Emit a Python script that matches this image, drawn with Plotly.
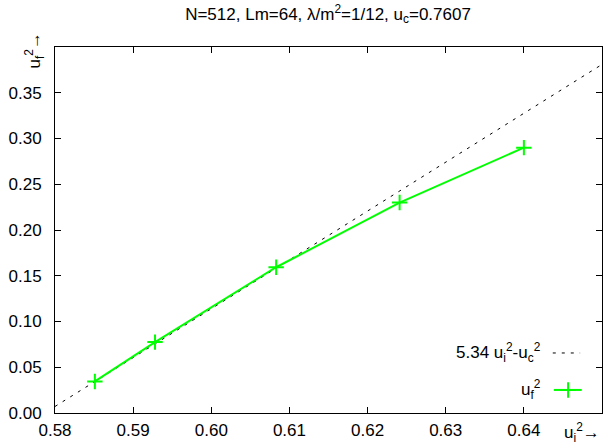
import plotly.graph_objects as go

# data
ui2 = [0.5851, 0.5928, 0.6083, 0.6241, 0.6400]
uf2 = [0.0345, 0.0775, 0.1593, 0.2300, 0.2900]
fit_slope = 5.34
uc = 0.7607
x_range = [0.58, 0.65]
y_range = [0.0, 0.4]
x_ticks = [0.58, 0.59, 0.60, 0.61, 0.62, 0.63, 0.64]
y_ticks = [0.00, 0.05, 0.10, 0.15, 0.20, 0.25, 0.30, 0.35]

fit_x = x_range
fit_y = [fit_slope * (x - uc**2) for x in fit_x]

FONT = "Liberation Sans, Arial, sans-serif"
GREEN = "#00ff00"
DASH = "3px,6px"

fig = go.Figure()
fig.add_trace(go.Scatter(x=fit_x, y=fit_y, mode="lines",
                         line=dict(color="black", width=1, dash=DASH),
                         showlegend=False, hoverinfo="skip"))
fig.add_trace(go.Scatter(x=ui2, y=uf2, mode="lines+markers",
                         line=dict(color=GREEN, width=2),
                         marker=dict(symbol="cross-thin", size=11,
                                     line=dict(color=GREEN, width=2)),
                         showlegend=False))

# manual gnuplot-style legend on an overlay axis (0..1 units)
fig.add_trace(go.Scatter(x=[0.910, 0.960], y=[0.164, 0.164], mode="lines",
                         line=dict(color="black", width=1, dash=DASH),
                         xaxis="x2", yaxis="y2", showlegend=False, hoverinfo="skip"))
fig.add_trace(go.Scatter(x=[0.912, 0.963], y=[0.063, 0.063], mode="lines",
                         line=dict(color=GREEN, width=2),
                         xaxis="x2", yaxis="y2", showlegend=False, hoverinfo="skip"))
fig.add_trace(go.Scatter(x=[0.938], y=[0.063], mode="markers",
                         marker=dict(symbol="cross-thin", size=11,
                                     line=dict(color=GREEN, width=2)),
                         xaxis="x2", yaxis="y2", showlegend=False, hoverinfo="skip"))

fig.add_annotation(xref="x2", yref="y2", x=0.893, y=0.164, xanchor="right",
                   yanchor="middle", showarrow=False,
                   text="5.34 u<sub>i</sub><sup>2</sup>-u<sub>c</sub><sup>2</sup>",
                   font=dict(family=FONT, size=17, color="black"))
fig.add_annotation(xref="x2", yref="y2", x=0.893, y=0.063, xanchor="right",
                   yanchor="middle", showarrow=False,
                   text="u<sub>f</sub><sup>2</sup>",
                   font=dict(family=FONT, size=17, color="black"))

# axis labels
fig.add_annotation(xref="paper", yref="paper", x=1.0, y=-0.052, xanchor="right",
                   yanchor="middle", showarrow=False,
                   text="u<sub>i</sub><sup>2</sup>→",
                   font=dict(family=FONT, size=17, color="black"))
fig.add_annotation(xref="paper", yref="paper", x=-0.037, y=0.99, xanchor="center",
                   yanchor="middle", showarrow=False, textangle=-90,
                   text="u<sub>f</sub><sup>2</sup>→",
                   font=dict(family=FONT, size=17, color="black"))

axis_common = dict(showline=True, linecolor="black", linewidth=1, mirror="allticks",
                   ticks="inside", ticklen=6, tickcolor="black", showgrid=False,
                   zeroline=False, tickfont=dict(family=FONT, size=17, color="black"))

fig.update_layout(
    width=603, height=445,
    margin=dict(l=55, r=1, t=47, b=32),
    paper_bgcolor="white", plot_bgcolor="white",
    title=dict(text="N=512, Lm=64, λ/m<sup>2</sup>=1/12, u<sub>c</sub>=0.7607",
               x=0.544, xanchor="center", y=0.982, yanchor="top",
               font=dict(family=FONT, size=17, color="black")),
    xaxis=dict(range=x_range, tickvals=x_ticks, tickformat=".2f",
               ticklabelstandoff=2, **axis_common),
    yaxis=dict(range=y_range, tickvals=y_ticks, tickformat=".2f",
               ticklabelstandoff=9, **axis_common),
    xaxis2=dict(overlaying="x", range=[0, 1], visible=False),
    yaxis2=dict(overlaying="y", range=[0, 1], visible=False),
    showlegend=False,
)

fig.write_html("out.html")
